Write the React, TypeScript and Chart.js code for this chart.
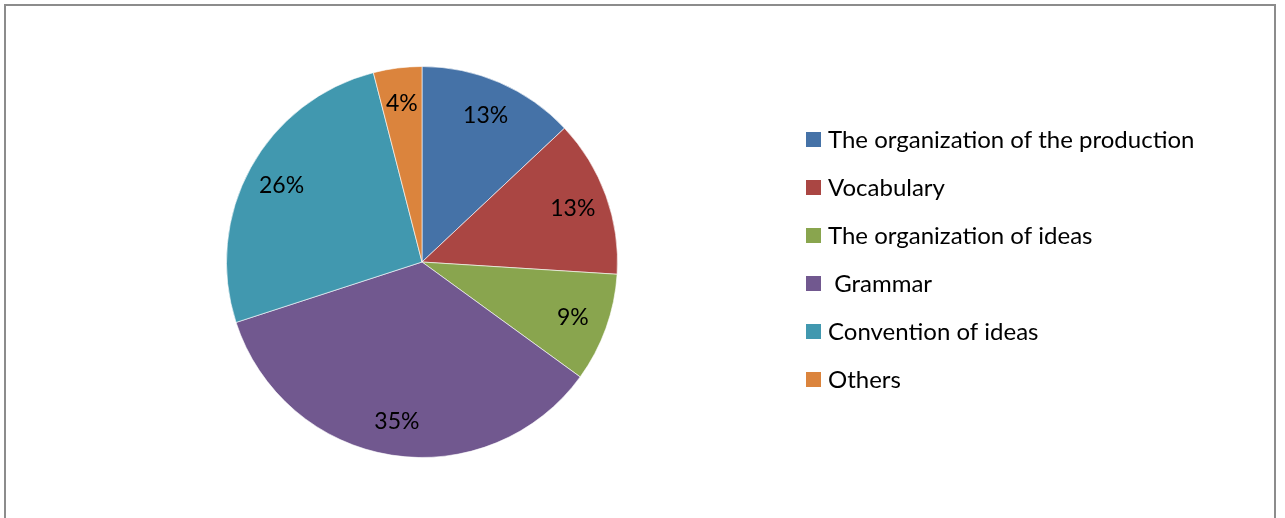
import React, { useEffect, useRef } from "react";
import { Chart, registerables } from "chart.js";

Chart.register(...registerables);

const categories = [
  "The organization of the production",
  "Vocabulary",
  "The organization of ideas",
  " Grammar",
  "Convention of ideas",
  "Others",
];
const values = [13, 13, 9, 35, 26, 4];
const colors = ["#4572A7", "#AA4643", "#89A54E", "#71588F", "#4198AF", "#DB843D"];

const FONT = "Lato, 'Open Sans', sans-serif";

const labelPlugin = {
  id: "pctLabels",
  afterDatasetsDraw(chart: any) {
    const ctx = chart.ctx;
    const meta = chart.getDatasetMeta(0);
    const data = chart.data.datasets[0].data as number[];
    const total = data.reduce((a: number, b: number) => a + b, 0);
    ctx.save();
    ctx.fillStyle = "#000";
    ctx.font = `23px ${FONT}`;
    ctx.textAlign = "center";
    ctx.textBaseline = "middle";
    meta.data.forEach((arc: any, i: number) => {
      const p = arc.getProps(["x", "y", "startAngle", "endAngle", "outerRadius"], true);
      const mid = (p.startAngle + p.endAngle) / 2;
      const r = p.outerRadius * 0.82;
      const x = p.x + Math.cos(mid) * r;
      const y = p.y + Math.sin(mid) * r;
      ctx.fillText(Math.round((data[i] / total) * 100) + "%", x, y + 1);
    });
    ctx.restore();
  },
};

const legendPlugin = {
  id: "sideLegend",
  afterDraw(chart: any) {
    const ctx = chart.ctx;
    const labels = chart.data.labels as string[];
    const bg = chart.data.datasets[0].backgroundColor as string[];
    ctx.save();
    ctx.font = `24px ${FONT}`;
    ctx.textBaseline = "middle";
    ctx.textAlign = "left";
    labels.forEach((t, i) => {
      const y = 139 + i * 48;
      ctx.fillStyle = bg[i];
      ctx.fillRect(806, y - 7, 15, 15);
      ctx.fillStyle = "#000";
      ctx.fillText(t, 828, y + 1);
    });
    ctx.restore();
  },
};

export default function App() {
  const ref = useRef<HTMLCanvasElement>(null);
  useEffect(() => {
    document.body.style.margin = "0";
    const chart = new Chart(ref.current as HTMLCanvasElement, {
      type: "pie",
      data: {
        labels: categories,
        datasets: [
          {
            data: values,
            backgroundColor: colors,
            borderColor: "rgba(255,255,255,0.6)",
            borderWidth: 1,
          },
        ],
      },
      options: {
        animation: false,
        responsive: false,
        layout: { padding: { left: 226, right: 667, top: 66, bottom: 60 } },
        plugins: {
          legend: { display: false },
          tooltip: { enabled: false },
        },
      },
      plugins: [labelPlugin, legendPlugin],
    });
    return () => chart.destroy();
  }, []);
  return (
    <div style={{ position: "relative", width: 1285, height: 518, overflow: "hidden", background: "#fff" }}>
      <div
        style={{
          position: "absolute",
          left: 4,
          top: 4,
          width: 1272,
          height: 600,
          border: "2px solid #8c8c8c",
          boxSizing: "border-box",
        }}
      />
      <canvas ref={ref} width={1285} height={518} style={{ position: "absolute", left: 0, top: 0 }} />
    </div>
  );
}
